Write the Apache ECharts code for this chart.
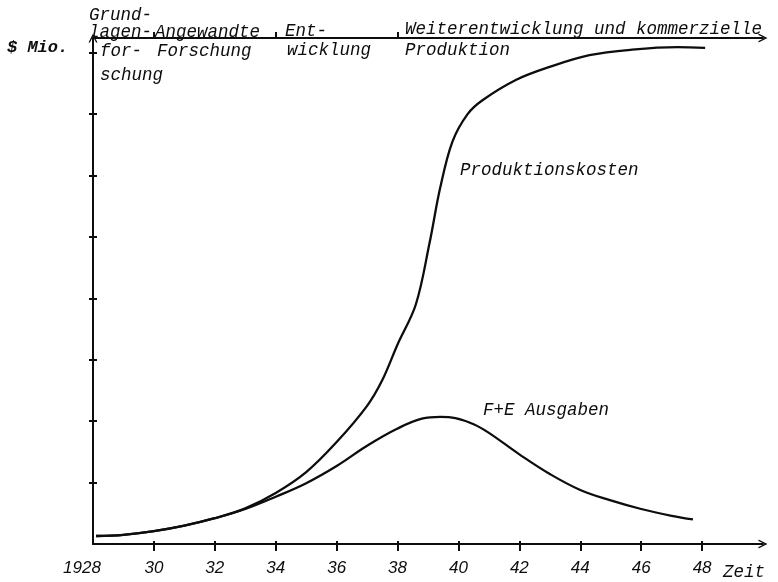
<!DOCTYPE html>
<html>
<head>
<meta charset="utf-8">
<script src="https://cdn.jsdelivr.net/npm/echarts@6/dist/echarts.min.js"></script>
<style>html,body{margin:0;padding:0;background:#fff}#c{width:778px;height:582px}</style>
</head>
<body>
<div id="c"></div>
<script>
// ---- data ----
const prodYears  = [1928.1, 1929, 1930, 1931, 1932, 1933, 1934, 1935, 1936, 1937, 1937.5, 1938, 1938.6, 1939.05, 1939.4, 1939.8, 1940.3, 1940.8, 1941.9, 1943, 1944.3, 1945.7, 1947.2, 1948.1];
const prodValues = [0.13, 0.15, 0.21, 0.30, 0.42, 0.58, 0.83, 1.17, 1.66, 2.25, 2.67, 3.25, 3.90, 4.90, 5.80, 6.55, 7.00, 7.23, 7.56, 7.77, 7.96, 8.05, 8.09, 8.08];
const feYears  = [1928.1, 1929, 1930, 1931, 1932, 1933, 1934, 1935, 1936, 1937, 1938, 1938.8, 1939.4, 1939.9, 1940.5, 1941, 1942, 1943, 1944, 1945, 1946, 1947, 1947.7];
const feValues = [0.13, 0.15, 0.21, 0.30, 0.42, 0.57, 0.77, 0.99, 1.27, 1.60, 1.88, 2.04, 2.07, 2.05, 1.95, 1.81, 1.46, 1.14, 0.88, 0.71, 0.57, 0.46, 0.40];
const xTicks = [1928, 1930, 1932, 1934, 1936, 1938, 1940, 1942, 1944, 1946, 1948];
const xTickLabels = ['1928', '30', '32', '34', '36', '38', '40', '42', '44', '46', '48'];
const yTicks = [1, 2, 3, 4, 5, 6, 7, 8];
const phaseTicks = [1930, 1934, 1938];
const seriesNames = ['Produktionskosten', 'F+E Ausgaben'];
const phaseLabels = ['Grund-', 'lagen-', 'for-', 'schung', 'Angewandte', 'Forschung', 'Ent-', 'wicklung', 'Weiterentwicklung und kommerzielle', 'Produktion'];
const yAxisName = '$ Mio.';
const xAxisName = 'Zeit';

// ---- chart ----
const INK = '#0d0d0d';
const MONO = 'italic 17.5px "Liberation Mono"';
const chevron = 'path://M5,0 L10,10 L8.4,10 L5,3.2 L1.6,10 L0,10 Z';
const chart = echarts.init(document.getElementById('c'), null, {renderer: 'canvas'});
const pair = (xs, ys) => xs.map((x, i) => [x, ys[i]]);
const axisLineStyle = {color: INK, width: 2};

const txt = (text, x, y, extra) => ({
  type: 'text', x: x, y: y, silent: true,
  style: Object.assign({text: text, fill: INK, font: MONO, align: 'left', verticalAlign: 'middle'}, extra || {})
});

chart.setOption({
  animation: false,
  backgroundColor: '#fff',
  grid: {left: 93, right: 15, top: 38, bottom: 38},
  xAxis: [
    { type: 'value', min: 1928, max: 1950, position: 'bottom', splitLine: {show: false},
      axisLine: {show: true, onZero: false, lineStyle: axisLineStyle, symbol: ['none', chevron], symbolSize: [13, 9]},
      axisTick: {show: true, length: 7, lineStyle: {color: INK, width: 2}, customValues: xTicks.slice(1)},
      axisLabel: {show: true, margin: 16, color: INK, fontFamily: 'Liberation Sans', fontStyle: 'italic', fontSize: 17,
        customValues: xTicks,
        formatter: v => { const i = xTicks.indexOf(v); const s = i >= 0 ? xTickLabels[i] : ''; return i === 0 ? '{a|' + s + '}' : s; },
        rich: {a: {fontFamily: 'Liberation Sans', fontStyle: 'italic', fontSize: 17, color: INK, padding: [0, 22, 0, 0]}}}
    },
    { type: 'value', min: 1928, max: 1950, position: 'top', splitLine: {show: false},
      axisLine: {show: true, onZero: false, lineStyle: axisLineStyle, symbol: ['none', chevron], symbolSize: [13, 9]},
      axisTick: {show: true, length: 6, lineStyle: {color: INK, width: 2}, customValues: phaseTicks},
      axisLabel: {show: false}
    },
    { type: 'value', min: 1928, max: 1950, position: 'bottom', splitLine: {show: false},
      axisLine: {show: false, onZero: false},
      axisTick: {show: true, inside: true, length: 3, lineStyle: {color: INK, width: 2}, customValues: xTicks.slice(1)},
      axisLabel: {show: false}
    }
  ],
  yAxis: [
    { type: 'value', min: 0, max: 8.24, position: 'left', splitLine: {show: false},
      axisLine: {show: true, onZero: false, lineStyle: axisLineStyle, symbol: ['none', chevron], symbolSize: [12, 9]},
      axisTick: {show: true, length: 4, lineStyle: {color: INK, width: 2}, customValues: yTicks},
      axisLabel: {show: false}
    },
    { type: 'value', min: 0, max: 8.24, position: 'left', splitLine: {show: false},
      axisLine: {show: false, onZero: false},
      axisTick: {show: true, inside: true, length: 4, lineStyle: {color: INK, width: 2}, customValues: yTicks},
      axisLabel: {show: false}
    }
  ],
  series: [
    { name: seriesNames[0], type: 'line', xAxisIndex: 0, yAxisIndex: 0, data: pair(prodYears, prodValues),
      smooth: 0.35, showSymbol: false, symbol: 'none', lineStyle: {color: INK, width: 2.3} },
    { name: seriesNames[1], type: 'line', xAxisIndex: 0, yAxisIndex: 0, data: pair(feYears, feValues),
      smooth: 0.4, showSymbol: false, symbol: 'none', lineStyle: {color: INK, width: 2.3} }
  ],
  graphic: [
    txt(yAxisName, 7, 48, {font: 'italic bold 17px "Liberation Mono"'}),
    txt(phaseLabels[0], 89, 15),
    txt(phaseLabels[1], 89, 32),
    txt(phaseLabels[2], 100, 51),
    txt(phaseLabels[3], 100, 75),
    txt(phaseLabels[4], 155, 32),
    txt(phaseLabels[5], 157, 51),
    txt(phaseLabels[6], 285, 31),
    txt(phaseLabels[7], 287, 50),
    txt(phaseLabels[8], 405, 29),
    txt(phaseLabels[9], 405, 50),
    txt(seriesNames[0], 460, 170),
    txt(seriesNames[1], 483, 410),
    txt(xAxisName, 723, 572)
  ]
});
</script>
</body>
</html>
